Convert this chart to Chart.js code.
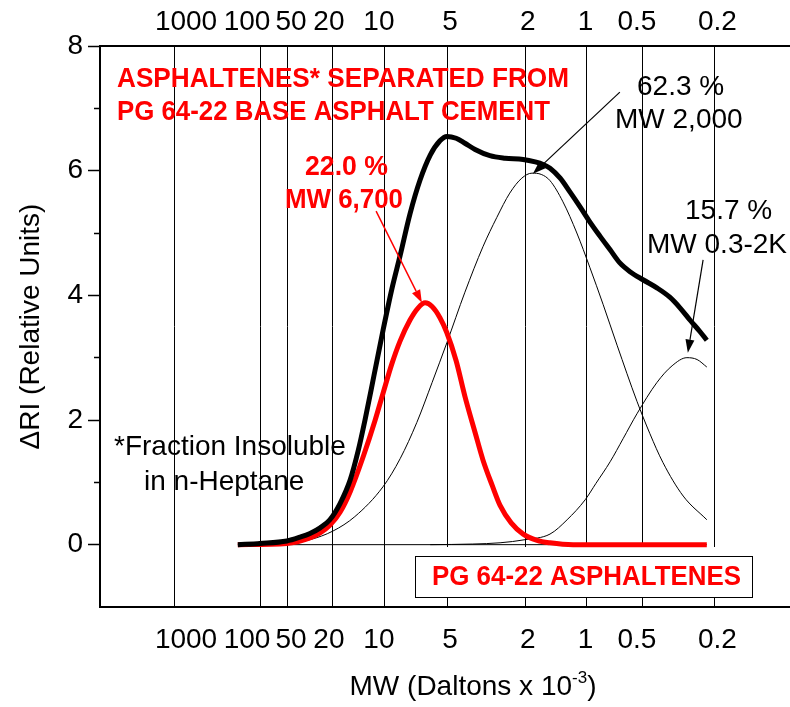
<!DOCTYPE html>
<html>
<head>
<meta charset="utf-8">
<script src="https://cdn.jsdelivr.net/npm/chart.js@4.4.1/dist/chart.umd.min.js"></script>
<style>
  html, body { margin: 0; padding: 0; background: #fff; overflow: hidden; }
  #wrap { width: 790px; height: 707px; overflow: hidden; }
</style>
</head>
<body>
<div id="wrap"><canvas id="myChart" width="840" height="707"></canvas></div>
<script>
"use strict";

// MW markers: where each line sits on the elution axis, and where its label is written
const mwLabels = ["1000", "100", "50", "20", "10", "5", "2", "1", "0.5", "0.2"];
const mwLinePos = [1.60, 3.47, 4.05, 5.02, 6.16, 7.51, 9.20, 10.52, 11.73, 13.28];
const mwLabelPos = [1.86, 3.18, 4.13, 4.95, 6.03, 7.57, 9.25, 10.50, 11.61, 13.35];

// total chromatogram (black, thick)
const totalX = [2.98, 3.46, 4.04, 4.32, 4.54, 4.76, 4.97, 5.19, 5.41, 5.58, 5.73, 5.92, 6.12, 6.31, 6.49, 6.70, 6.92, 7.14, 7.35, 7.50, 7.70, 7.89, 8.11, 8.43, 8.76, 9.15, 9.41, 9.58, 9.73, 9.95, 10.16, 10.38, 10.59, 10.81, 11.03, 11.24, 11.46, 11.74, 12.04, 12.32, 12.54, 12.76, 12.97, 13.12];
const totalY = [0, 0.02, 0.06, 0.12, 0.18, 0.27, 0.4, 0.66, 1.04, 1.5, 2.0, 2.7, 3.44, 4.1, 4.64, 5.3, 5.85, 6.25, 6.48, 6.55, 6.52, 6.44, 6.34, 6.24, 6.2, 6.18, 6.14, 6.1, 6.04, 5.88, 5.66, 5.42, 5.18, 4.95, 4.73, 4.52, 4.38, 4.25, 4.12, 3.97, 3.8, 3.6, 3.42, 3.28];

// asphaltenes (red, thick)
const asphX = [2.98, 4.04, 4.54, 4.76, 4.97, 5.19, 5.41, 5.69, 5.95, 6.12, 6.31, 6.49, 6.70, 6.88, 7.03, 7.18, 7.35, 7.50, 7.70, 7.89, 8.11, 8.28, 8.48, 8.65, 8.89, 9.15, 9.45, 9.73, 10.23, 13.12];
const asphY = [0, 0.02, 0.11, 0.19, 0.31, 0.52, 0.85, 1.41, 2.0, 2.43, 2.9, 3.27, 3.6, 3.8, 3.88, 3.82, 3.64, 3.4, 2.95, 2.38, 1.8, 1.36, 0.95, 0.63, 0.35, 0.17, 0.07, 0.03, 0, 0];

// fitted peak MW 2,000 (thin)
const peak2kX = [4.04, 4.54, 5.04, 5.51, 6.12, 6.49, 6.85, 7.18, 7.50, 7.89, 8.28, 8.58, 8.86, 9.12, 9.34, 9.54, 9.73, 10.01, 10.31, 10.59, 10.88, 11.18, 11.61, 11.89, 12.17, 12.61, 13.12];
const peak2kY = [0.02, 0.08, 0.22, 0.45, 0.93, 1.38, 1.96, 2.6, 3.24, 4.05, 4.78, 5.25, 5.64, 5.88, 5.96, 5.94, 5.84, 5.5, 5.0, 4.45, 3.85, 3.2, 2.3, 1.78, 1.32, 0.78, 0.4];

// fitted peak MW 0.3-2K (thin)
const peakLowX = [7.14, 8.06, 8.65, 9.19, 9.73, 10.10, 10.49, 10.72, 11.03, 11.31, 11.61, 12.04, 12.37, 12.69, 12.91, 13.12];
const peakLowY = [0, 0.01, 0.03, 0.08, 0.17, 0.4, 0.72, 0.98, 1.33, 1.7, 2.1, 2.6, 2.87, 3.0, 2.97, 2.85];

// zero line under the curves
const baseX = [2.98, 13.12];
const baseY = [0, 0];

const RED = "#ff0000";
const FONT = "Liberation Sans, Arial, sans-serif";

function toPoints(xs, ys) {
    return xs.map(function (x, i) { return {x: x, y: ys[i]}; });
}

function line(xs, ys, color, width) {
    return {
        data: toPoints(xs, ys),
        borderColor: color,
        borderWidth: width,
        pointRadius: 0,
        fill: false,
        cubicInterpolationMode: "monotone",
        xAxisID: "x",
        yAxisID: "y"
    };
}

// arrows in data units
const arrows = [
    {from: [5.97, 5.35], to: [6.96, 3.88], color: RED, width: 1.5},
    {from: [11.24, 7.26], to: [9.36, 5.95], color: "#000", width: 1.2},
    {from: [13.04, 4.57], to: [12.71, 3.08], color: "#000", width: 1.2}
];

// free text on the plot (pixel anchors, left/baseline)
const notes = [
    {text: "ASPHALTENES* SEPARATED FROM", x: 117, y: 87, w: 452, bold: true, color: RED},
    {text: "PG 64-22 BASE ASPHALT CEMENT", x: 117, y: 120, w: 433, bold: true, color: RED},
    {text: "22.0 %", x: 305, y: 175, w: 83, bold: true, color: RED},
    {text: "MW 6,700", x: 285, y: 208, w: 118, bold: true, color: RED},
    {text: "62.3 %", x: 637, y: 95},
    {text: "MW 2,000", x: 615, y: 128},
    {text: "15.7 %", x: 685, y: 219},
    {text: "MW 0.3-2K", x: 647, y: 253},
    {text: "*Fraction Insoluble", x: 114, y: 455},
    {text: "in n-Heptane", x: 144, y: 490}
];

const extras = {
    id: "extras",
    beforeDatasetsDraw: function (chart) {
        // legend box, white so it hides the MW lines behind it
        let c = chart.ctx;
        c.save();
        c.fillStyle = "#fff";
        c.fillRect(415, 547, 337, 50);
        c.strokeStyle = "#000";
        c.lineWidth = 1;
        c.strokeRect(415.5, 556.5, 337, 41);
        c.fillStyle = RED;
        c.font = "bold 28px " + FONT;
        c.textBaseline = "alphabetic";
        c.fillText("PG 64-22 ASPHALTENES", 432, 585, 309);
        c.restore();
    },
    afterDatasetsDraw: function (chart) {
        let c = chart.ctx;
        let sx = chart.scales.x;
        let sy = chart.scales.y;
        c.save();
        for (let a of arrows) {
            let x1 = sx.getPixelForValue(a.from[0]), y1 = sy.getPixelForValue(a.from[1]);
            let x2 = sx.getPixelForValue(a.to[0]), y2 = sy.getPixelForValue(a.to[1]);
            let ang = Math.atan2(y2 - y1, x2 - x1);
            let len = 13, half = 4.5;
            let bx = x2 - len * Math.cos(ang), by = y2 - len * Math.sin(ang);
            c.strokeStyle = a.color;
            c.fillStyle = a.color;
            c.lineWidth = a.width;
            c.beginPath();
            c.moveTo(x1, y1);
            c.lineTo(bx, by);
            c.stroke();
            c.beginPath();
            c.moveTo(x2, y2);
            c.lineTo(bx + half * Math.sin(ang), by - half * Math.cos(ang));
            c.lineTo(bx - half * Math.sin(ang), by + half * Math.cos(ang));
            c.closePath();
            c.fill();
        }
        c.textBaseline = "alphabetic";
        for (let n of notes) {
            c.font = (n.bold ? "bold " : "") + "28px " + FONT;
            c.fillStyle = n.color || "#000";
            if (n.w) c.fillText(n.text, n.x, n.y, n.w);
            else c.fillText(n.text, n.x, n.y);
        }

        // x axis title with superscript
        let big = "28px " + FONT, small = "17px " + FONT;
        let t1 = "MW (Daltons x 10", t2 = "-3", t3 = ")";
        c.font = big;
        let w1 = c.measureText(t1).width, w3 = c.measureText(t3).width;
        c.font = small;
        let w2 = c.measureText(t2).width;
        let x0 = 473 - (w1 + w2 + w3) / 2;
        c.fillStyle = "#000";
        c.font = big;
        c.fillText(t1, x0, 695);
        c.font = small;
        c.fillText(t2, x0 + w1, 683);
        c.font = big;
        c.fillText(t3, x0 + w1 + w2, 695);
        c.restore();
    }
};

Chart.defaults.font.family = FONT;
Chart.defaults.color = "#000";

let ctx = document.getElementById("myChart").getContext("2d");
let myChart = new Chart(ctx, {
    type: "line",
    data: {
        datasets: [
            line(totalX, totalY, "#000", 5),
            line(asphX, asphY, RED, 5),
            line(peak2kX, peak2kY, "#000", 1),
            line(peakLowX, peakLowY, "#000", 1),
            line(baseX, baseY, "#000", 1)
        ]
    },
    options: {
        responsive: false,
        animation: false,
        layout: {padding: 0},
        plugins: {legend: {display: false}, tooltip: {enabled: false}},
        scales: {
            x: {
                type: "linear", position: "bottom", min: 0, max: 16,
                afterBuildTicks: function (s) { s.ticks = mwLabelPos.map(function (v) { return {value: v}; }); },
                afterFit: function (s) { s.height = 100; },
                ticks: {
                    autoSkip: false, maxRotation: 0, padding: 16,
                    font: {size: 28},
                    callback: function (v, i) { return mwLabels[i]; }
                },
                grid: {drawOnChartArea: false, drawTicks: false},
                border: {color: "#000", width: 2}
            },
            xTop: {
                type: "linear", position: "top", min: 0, max: 16,
                afterBuildTicks: function (s) { s.ticks = mwLabelPos.map(function (v) { return {value: v}; }); },
                afterFit: function (s) { s.height = 46; },
                ticks: {
                    autoSkip: false, maxRotation: 0, padding: 7,
                    font: {size: 28},
                    callback: function (v, i) { return mwLabels[i]; }
                },
                grid: {drawOnChartArea: false, drawTicks: false},
                border: {color: "#000", width: 2}
            },
            xLines: {
                type: "linear", position: "bottom", min: 0, max: 16,
                afterBuildTicks: function (s) { s.ticks = mwLinePos.map(function (v) { return {value: v}; }); },
                afterFit: function (s) { s.height = 0; },
                ticks: {display: false},
                grid: {color: "#000", lineWidth: 1, drawTicks: false},
                border: {display: false}
            },
            y: {
                min: -1, max: 8,
                afterFit: function (s) { s.width = 100; },
                ticks: {
                    stepSize: 1, padding: 5,
                    font: {size: 28},
                    callback: function (v) { return (v >= 0 && v % 2 === 0) ? String(v) : ""; }
                },
                grid: {
                    drawOnChartArea: false, tickLength: 12, tickWidth: 1.5,
                    tickColor: function (c) { return c.tick && c.tick.value === -1 ? "rgba(0,0,0,0)" : "#000"; },
                    tickBorderDash: function (c) { return c.tick && Math.abs(c.tick.value % 2) === 1 ? [0, 6, 6, 50] : []; }
                },
                border: {color: "#000", width: 2},
                title: {
                    display: true, text: "\u0394RI (Relative Units)",
                    font: {size: 28}, padding: {top: 14, bottom: 0}
                }
            }
        }
    },
    plugins: [extras]
});
</script>
</body>
</html>
